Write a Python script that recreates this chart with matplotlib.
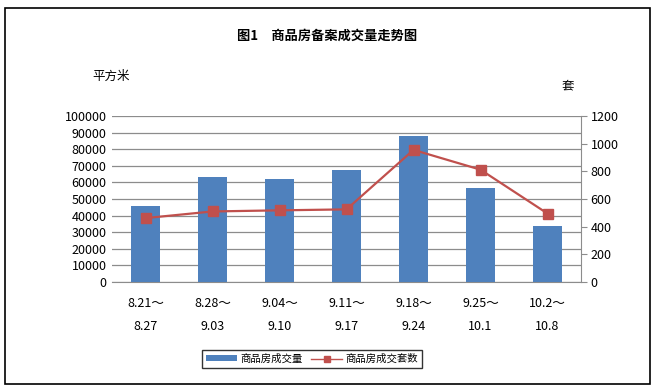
import matplotlib.pyplot as plt
from matplotlib.patches import Rectangle

plt.rcParams['font.family'] = ['Noto Sans CJK SC', 'DejaVu Sans']

weeks = ['8.21～\n8.27', '8.28～\n9.03', '9.04～\n9.10', '9.11～\n9.17',
         '9.18～\n9.24', '9.25～\n10.1', '10.2～\n10.8']
area = [45500, 63000, 62300, 67500, 87800, 56800, 33800]   # 商品房成交量, 平方米
units = [462, 510, 518, 525, 955, 812, 495]               # 商品房成交套数, 套

fig = plt.figure(figsize=(6.55, 3.9), dpi=100)
fig.patches.append(Rectangle((5 / 655, 6 / 390), 645 / 655, 376 / 390, transform=fig.transFigure,
                             fill=False, edgecolor='black', linewidth=1.2))

ax = fig.add_axes([112 / 655, 108 / 390, 469 / 655, 166 / 390])
x = range(len(weeks))
b = ax.bar(x, area, width=0.42, color='#4F81BD', zorder=3, label='商品房成交量')
ax.set_ylim(0, 100000)
ax.set_yticks(range(0, 100001, 10000))
ax.set_xlim(-0.5, len(weeks) - 0.5)
ax.set_xticks(list(x))
ax.set_xticklabels(weeks, fontsize=9, linespacing=2.0)
ax.tick_params(axis='x', length=0, pad=11)
ax.tick_params(axis='y', length=0, labelsize=9, pad=4)
ax.grid(axis='y', color='#8c8c8c', linewidth=0.9, zorder=0)
for s in ['top', 'left', 'right']:
    ax.spines[s].set_visible(False)
ax.spines['bottom'].set_color('#8c8c8c')

ax2 = ax.twinx()
l, = ax2.plot(x, units, color='#C0504D', linewidth=1.6, marker='s', markersize=6.5,
              zorder=4, label='商品房成交套数')
ax2.set_ylim(0, 1200)
ax2.set_yticks(range(0, 1201, 200))
ax2.tick_params(axis='y', labelsize=9, color='#8c8c8c', length=4, pad=3)
for s in ['top', 'left', 'bottom']:
    ax2.spines[s].set_visible(False)
ax2.spines['right'].set_color('#8c8c8c')

fig.text(0.5, 1 - 36 / 390, '图1　商品房备案成交量走势图', ha='center', va='center',
         fontsize=9.5, fontweight='bold')
fig.text(92 / 655, 1 - 76 / 390, '平方米', ha='left', va='center', fontsize=9)
fig.text(562 / 655, 1 - 86 / 390, '套', ha='left', va='center', fontsize=9)

leg = fig.legend(handles=[b, l], loc='center', bbox_to_anchor=(312 / 655, 1 - 359 / 390),
                 ncol=2, fontsize=7.5, frameon=True, fancybox=False, edgecolor='black',
                 handlelength=3.0, handleheight=0.5, borderpad=0.35, columnspacing=0.8,
                 handletextpad=0.3, markerscale=0.6)
leg.get_frame().set_linewidth(1)
leg.legend_handles[1].set_linewidth(1.0)

fig.savefig('out.png', dpi=100)
